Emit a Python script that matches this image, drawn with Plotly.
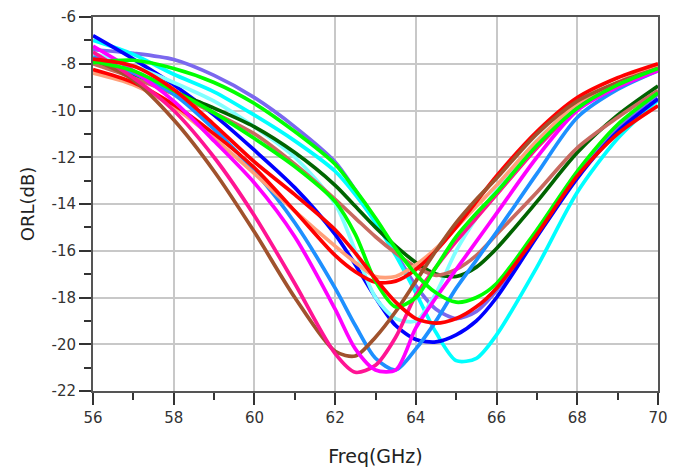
import plotly.graph_objects as go

# frequency points (GHz) shared by all curves, finer near the dips
freq = [56, 57, 58, 59, 60, 61, 62, 62.5, 63, 63.5, 64, 64.5, 65, 65.5, 66, 67, 68, 69, 70]

# y tick labels use a plain hyphen like the reference
y_ticks = [-22, -20, -18, -16, -14, -12, -10, -8, -6]
y_tick_text = ['-22', '-20', '-18', '-16', '-14', '-12', '-10', '-8', '-6']

# ORL (dB) per trace
violet = [-7.4, -7.55, -7.82, -8.5, -9.45, -10.7, -12.2, -13.4, -14.7, -16.1, -17.5, -18.5, -18.9, -18.6, -17.7, -15.3, -12.7, -10.7, -9.3]
cyan = [-7.0, -7.6, -8.45, -9.2, -10.2, -11.3, -12.6, -13.6, -14.8, -16.2, -17.8, -19.5, -20.7, -20.6, -19.6, -16.7, -13.5, -11.2, -9.55]
blue = [-6.8, -7.8, -8.9, -10.2, -11.7, -13.3, -15.3, -16.6, -18.0, -19.2, -19.8, -19.9, -19.6, -19.0, -18.0, -15.4, -12.9, -10.9, -9.5]
light_cyan = [-7.55, -8.1, -8.8, -9.6, -10.7, -12.0, -14.0, -16.0, -18.0, -18.9, -19.0, -17.8, -16.0, -14.6, -13.4, -11.3, -9.8, -8.9, -8.2]
dark_green = [-7.9, -8.5, -9.2, -9.9, -10.7, -11.8, -13.2, -14.1, -15.0, -15.8, -16.5, -17.0, -17.1, -16.7, -15.9, -13.9, -11.8, -10.2, -8.95]
rosy_brown = [-8.0, -8.6, -9.3, -10.1, -11.0, -12.3, -13.8, -14.6, -15.4, -16.1, -16.7, -17.05, -16.8, -16.2, -15.3, -13.5, -11.6, -10.3, -9.15]
dodger_blue = [-7.7, -8.4, -9.3, -10.8, -12.6, -14.8, -17.6, -19.2, -20.6, -21.1, -20.2, -19.0, -17.6, -16.4, -15.2, -12.7, -10.3, -9.1, -8.3]
salmon = [-8.4, -8.9, -9.85, -11.2, -12.7, -14.3, -15.8, -16.5, -17.1, -17.1, -16.6, -15.9, -15.0, -14.1, -13.2, -11.3, -9.7, -8.8, -8.1]
red_broad = [-8.25, -8.8, -9.75, -11.0, -12.45, -14.3, -16.2, -16.9, -17.35, -17.3, -16.8, -16.0, -15.0, -13.9, -12.8, -10.9, -9.45, -8.6, -8.0]
brown = [-7.8, -8.7, -10.4, -12.6, -15.2, -18.0, -20.3, -20.5, -19.7, -18.6, -17.3, -16.0, -14.8, -13.8, -12.9, -11.0, -9.6, -8.8, -8.2]
deep_pink = [-7.5, -8.6, -10.0, -12.0, -14.5, -17.4, -20.4, -21.2, -20.9, -19.7, -17.9, -16.7, -15.6, -14.6, -13.6, -11.6, -9.9, -8.9, -8.2]
magenta = [-7.25, -8.3, -9.6, -11.3, -13.1, -15.4, -18.5, -20.2, -21.1, -21.1, -19.3, -18.0, -16.8, -15.6, -14.4, -12.0, -10.0, -9.0, -8.3]
green_a = [-7.9, -8.3, -9.15, -10.1, -11.2, -12.4, -13.9, -15.3, -17.3, -18.4, -18.0, -16.7, -15.4, -14.4, -13.5, -11.5, -9.9, -8.9, -8.2]
green_b = [-7.95, -7.85, -8.2, -8.8, -9.7, -10.9, -12.3, -13.4, -14.6, -15.9, -17.0, -17.8, -18.2, -18.0, -17.4, -15.1, -12.6, -10.6, -9.25]
red_deep = [-7.8, -8.1, -9.1, -10.6, -12.2, -13.6, -15.1, -16.1, -17.2, -18.2, -18.9, -19.1, -18.9, -18.4, -17.6, -15.3, -12.8, -11.0, -9.8]

traces = [
    (violet, '#7b68ee'),
    (cyan, '#00ffff'),
    (blue, '#0000ff'),
    (light_cyan, '#80ffff'),
    (dark_green, '#006400'),
    (rosy_brown, '#c86a60'),
    (dodger_blue, '#1e90ff'),
    (salmon, '#ffa07a'),
    (red_broad, '#ff0000'),
    (brown, '#a0522d'),
    (deep_pink, '#ff1493'),
    (magenta, '#ff00ff'),
    (green_a, '#00ff00'),
    (green_b, '#00ff00'),
    (red_deep, '#ff0000'),
]

fig = go.Figure()
for vals, col in traces:
    fig.add_trace(go.Scatter(x=freq, y=vals, mode='lines',
                             line=dict(color=col, width=3.7, shape='spline', smoothing=0.8),
                             showlegend=False, hoverinfo='skip'))

axis_font = dict(family='DejaVu Sans', size=15, color='#333333')
fig.update_xaxes(range=[56, 70], dtick=2, tick0=56, automargin=False, ticklabeloverflow='allow',
                 showgrid=True, gridcolor='#c8c8c8', gridwidth=1.5,
                 showline=True, linecolor='#555555', linewidth=2, mirror=True,
                 ticks='outside', ticklen=12, tickwidth=1.5, tickcolor='#333333',
                 minor=dict(dtick=1, ticks='outside', ticklen=7, tickwidth=1.5, tickcolor='#333333', showgrid=False),
                 tickfont=axis_font, zeroline=False,
                 title=dict(text='Freq(GHz)', font=dict(family='DejaVu Sans', size=19, color='#222222'), standoff=24))
fig.update_yaxes(range=[-22, -6], tickvals=y_ticks, ticktext=y_tick_text,
                 automargin=False, ticklabeloverflow='allow',
                 showgrid=True, gridcolor='#c8c8c8', gridwidth=1.5,
                 showline=True, linecolor='#555555', linewidth=2, mirror=True,
                 ticks='outside', ticklen=12, tickwidth=1.5, tickcolor='#333333',
                 minor=dict(dtick=1, tick0=-22, ticks='outside', ticklen=7, tickwidth=1.5, tickcolor='#333333', showgrid=False),
                 tickfont=axis_font, zeroline=False,
                 title=dict(text='ORL(dB)', font=dict(family='DejaVu Sans', size=18, color='#222222'), standoff=12))
# page body adds ~8px offset; top margin kept just big enough for the "-6" label
fig.update_layout(width=686, height=470, margin=dict(l=85, r=36, t=9, b=87),
                  plot_bgcolor='white', paper_bgcolor='white')
fig.write_html("out.html")
